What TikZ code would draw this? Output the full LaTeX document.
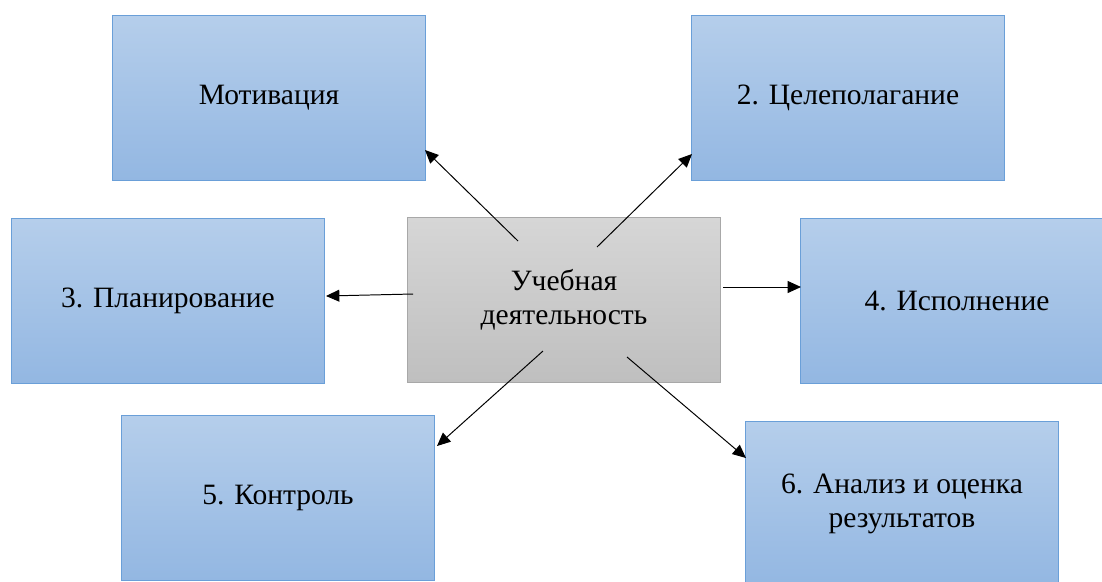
\documentclass[tikz,border=0pt]{standalone}
\usepackage{fontspec}
\setmainfont{LiberationSerif}[Extension=.ttf,UprightFont=*-Regular,BoldFont=*-Bold]
\usetikzlibrary{arrows.meta}

\definecolor{boxtop}{HTML}{B5CEEB}
\definecolor{boxbot}{HTML}{93B7E2}
\definecolor{boxline}{HTML}{6A9FD8}
\definecolor{midtop}{HTML}{D6D6D6}
\definecolor{midbot}{HTML}{BFBFBF}
\definecolor{midline}{HTML}{A8A8A8}

\tikzset{arr/.style={-{Triangle[length=9.5pt,width=8.5pt]},line width=0.7pt}}

\begin{document}
\begin{tikzpicture}[x=0.025cm,y=-0.025cm]
      \useasboundingbox (0,0) rectangle (1102,581);

      \begin{scope}[every node/.style={rectangle,draw=boxline,line width=0.7pt,
          top color=boxtop,bottom color=boxbot,minimum width=7.8cm,
          minimum height=4.1cm,align=center,font=\fontsize{21}{24}\selectfont}]
        \node (mot)  at (269,98)  {Мотивация};
        \node (goal) at (848,98)  {2. Целеполагание};
        \node (plan) at (168,301) {3. Планирование};
        \node (exec) at (957,301) {4. Исполнение};
        \node (ctrl) at (278,498) {5. Контроль};
        \node (anal) at (902,504) {6. Анализ и оценка\\результатов};
        \node[draw=midline,top color=midtop,bottom color=midbot] (uch) at (564,300)
          {Учебная\\деятельность};
      \end{scope}

      \coordinate (s1) at (518,241);  \coordinate (e1) at (425,150);
      \coordinate (s2) at (597,247);  \coordinate (e2) at (692,154);
      \coordinate (s3) at (413,294);  \coordinate (e3) at (326,296);
      \coordinate (s4) at (723,287);  \coordinate (e4) at (801,287);
      \coordinate (s5) at (543,351);  \coordinate (e5) at (437,446);
      \coordinate (s6) at (627,357);  \coordinate (e6) at (746,458);

      \foreach \i in {1,...,6}
        \draw[arr] (s\i) -- (e\i);

\end{tikzpicture}
\end{document}
